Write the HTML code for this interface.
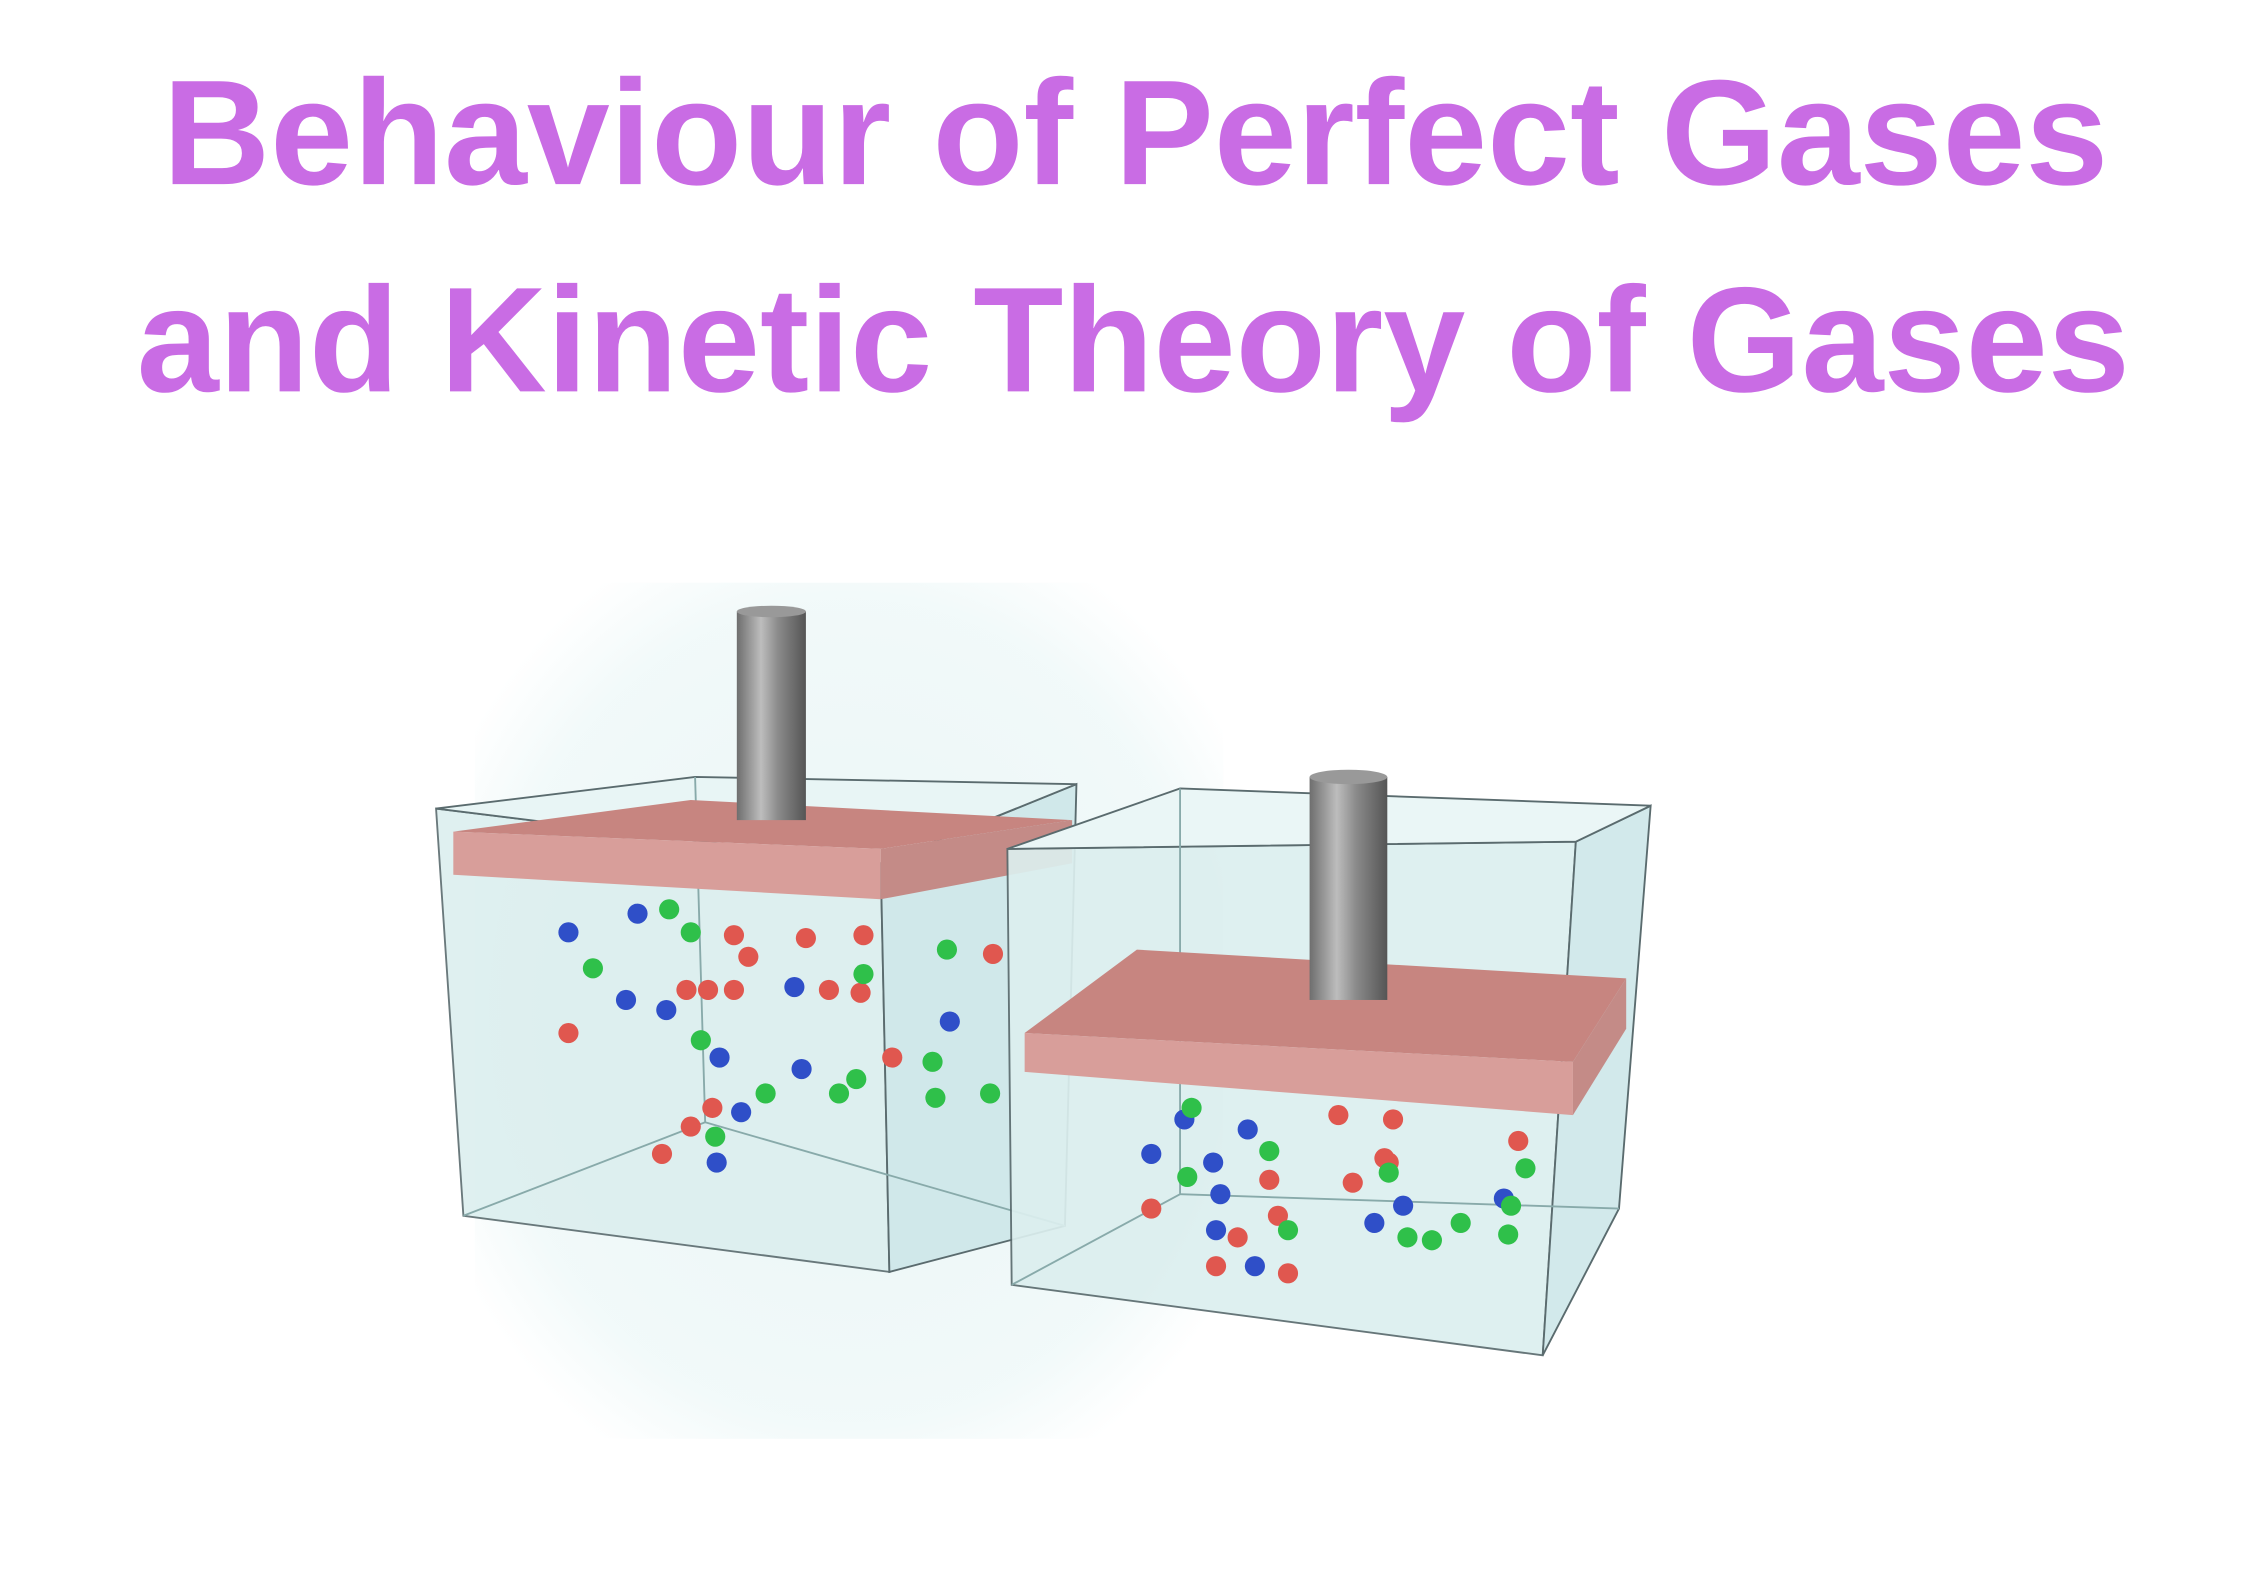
<!DOCTYPE html>
<html><head><meta charset="utf-8">
<style>
html,body{margin:0;padding:0;background:#fff;}
svg{display:block;}
</style></head>
<body>
<svg width="2245" height="1587" viewBox="0 0 1560 1103" preserveAspectRatio="none" xmlns="http://www.w3.org/2000/svg">
<defs>
<linearGradient id="rod" x1="0" x2="1" y1="0" y2="0">
<stop offset="0" stop-color="#6e6e6e"/><stop offset="0.35" stop-color="#bdbdbd"/><stop offset="0.6" stop-color="#8a8a8a"/><stop offset="1" stop-color="#555"/>
</linearGradient>
<radialGradient id="haze" cx="0.5" cy="0.5" r="0.6">
<stop offset="0" stop-color="#e4f3f4"/><stop offset="0.8" stop-color="#eef8f8"/><stop offset="1" stop-color="#fff"/>
</radialGradient>
</defs>
<rect width="1560" height="1103" fill="#fff"/>
<g fill="#c96ce4" font-family="Liberation Sans, sans-serif" font-weight="bold" font-size="104">
<text x="113" y="128" textLength="1352" lengthAdjust="spacingAndGlyphs">Behaviour of Perfect Gases</text>
<text x="95" y="272" textLength="1385" lengthAdjust="spacingAndGlyphs">and Kinetic Theory of Gases</text>
</g>
<g>
<rect x="330" y="405" width="520" height="595" fill="url(#haze)" opacity="0.8"/>
<!-- box 1 -->
<g stroke="#5a6b6e" stroke-width="1.3" fill="none">
<polygon points="303,562 612,600 618,884 322,845" fill="#dcefef" opacity="0.9"/>
<polygon points="612,600 748,545 740,852 618,884" fill="#d0e8ea"/>
<polygon points="303,562 483,540 748,545 612,600" fill="#e8f5f5"/>
<polyline points="483,540 490,780 322,845" stroke="#8aa"/>
<line x1="490" y1="780" x2="740" y2="852" stroke="#8aa"/>
</g>
<g>
<polygon points="315,578 480,556 745,570 612,590" fill="#c78580"/>
<polygon points="315,578 612,590 612,625 315,608" fill="#d89e9a"/>
<polygon points="612,590 745,570 745,600 612,625" fill="#c48b87"/>
<rect x="512" y="425" width="48" height="145" fill="url(#rod)"/>
<ellipse cx="536" cy="425" rx="24" ry="4" fill="#999"/>
</g>
<!-- box 2 -->
<g stroke="#5a6b6e" stroke-width="1.3" fill="none">
<polygon points="700,590 1095,585 1072,942 703,893" fill="#dcefef" opacity="0.92"/>
<polygon points="1095,585 1147,560 1125,840 1072,942" fill="#d2e9eb"/>
<polygon points="700,590 820,548 1147,560 1095,585" fill="#eaf6f6"/>
<polyline points="820,548 820,830 703,893" stroke="#8aa"/>
<line x1="820" y1="830" x2="1125" y2="840" stroke="#8aa"/>
</g>
<g>
<polygon points="712,718 790,660 1130,680 1093,738" fill="#c78580"/>
<polygon points="712,718 1093,738 1093,775 712,745" fill="#d89e9a"/>
<polygon points="1093,738 1130,680 1130,715 1093,775" fill="#c48b87"/>
<rect x="910" y="540" width="54" height="155" fill="url(#rod)"/>
<ellipse cx="937" cy="540" rx="27" ry="5" fill="#999"/>
</g>
<g id="particles"></g>
</g>
</svg>
<script>
const redX=[510,520,560,600,690,477,492,510,576,395,480,460,495,620,930,968,965,882,860,800,845,1055,895,940,962,888,598];
const redY=[650,665,652,650,663,688,688,688,688,718,783,802,770,735,775,778,808,820,860,840,880,793,885,822,805,845,690];
const blueX=[395,443,435,463,552,660,500,557,515,498,823,867,800,843,848,955,1045,975,845,872];
const blueY=[648,635,695,702,686,710,735,743,773,808,778,785,802,808,830,850,833,838,855,880];
const greenX=[465,480,412,600,658,648,487,583,595,650,688,532,497,828,882,895,978,1060,1050,1048,995,1015,825,965];
const greenY=[632,648,673,677,660,738,723,760,750,763,760,760,790,770,800,855,860,812,838,858,862,850,818,815];
const g=document.getElementById('particles');
function add(xs,ys,color){
  for(let i=0;i<xs.length;i++){
    const c=document.createElementNS('http://www.w3.org/2000/svg','circle');
    c.setAttribute('cx',xs[i]);c.setAttribute('cy',ys[i]);c.setAttribute('r',7);
    c.setAttribute('fill',color);
    
    
    g.appendChild(c);
  }
}
add(redX,redY,'#e0574f');
add(blueX,blueY,'#2f4fc8');
add(greenX,greenY,'#2fc04a');
</script>
</body></html>
